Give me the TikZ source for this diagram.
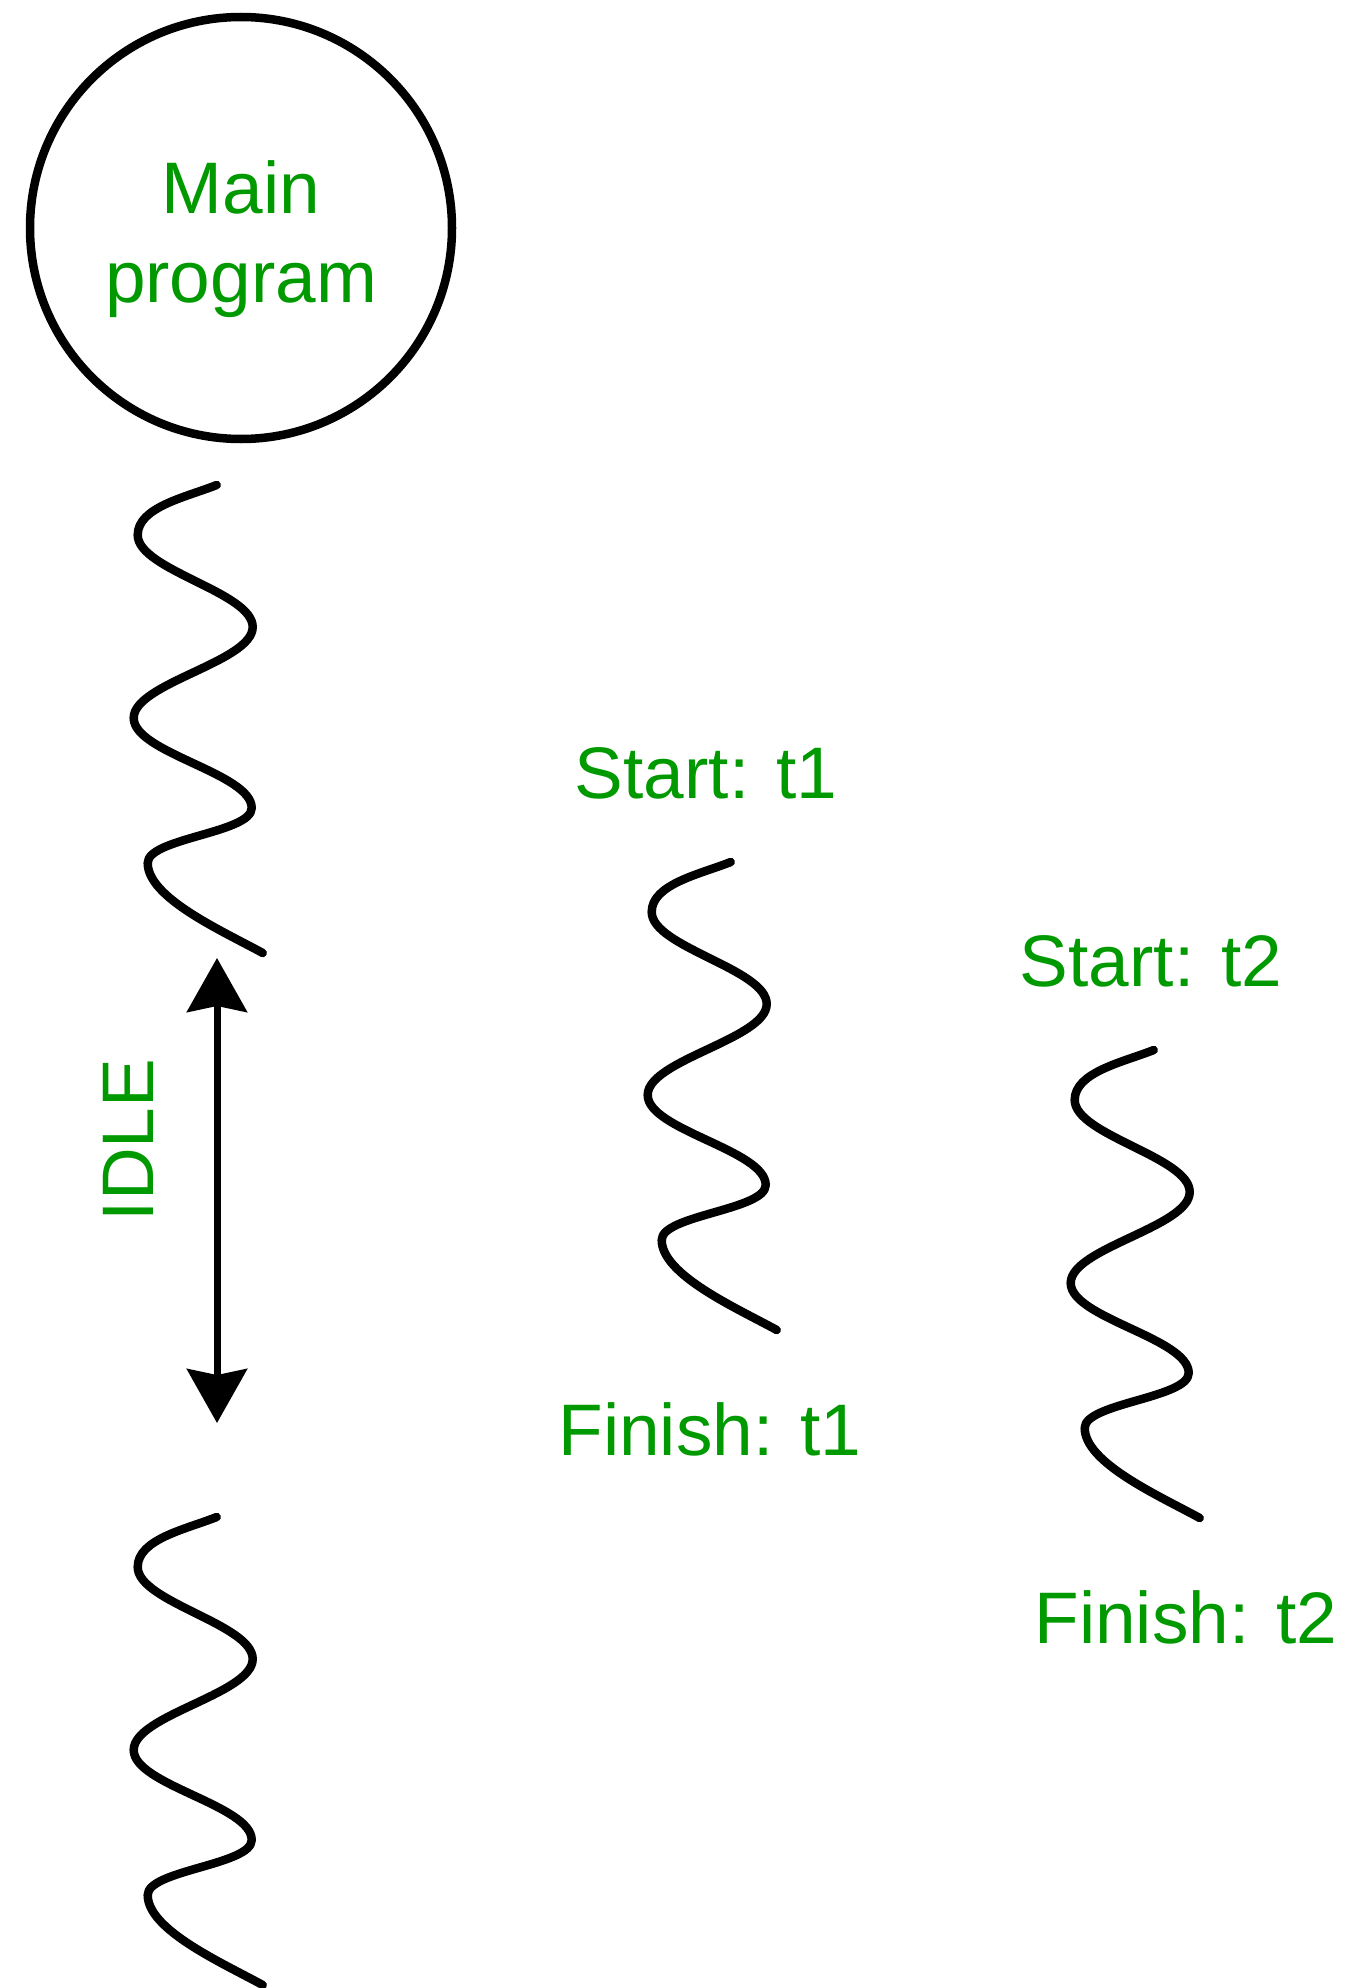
\documentclass[tikz,border=0pt]{standalone}
\usepackage{fontspec}
\setmainfont{Liberation Sans}
\usetikzlibrary{arrows.meta}
\definecolor{labelgreen}{RGB}{0,153,0}
\tikzset{
  wavestyle/.style={draw=black, line width=8.5pt, line cap=round, line join=round},
  lbl/.style={text=labelgreen, inner sep=0pt, font=\fontsize{73}{89}\selectfont},
  wave/.pic={
    \draw[wavestyle] (0,0) .. controls +(-30,12) and +(0,-28) .. (-79,50)
      .. controls +(0,35) and +(0,-35) .. (36,142)
      .. controls +(0,35) and +(0,-35) .. (-83,233)
      .. controls +(0,35) and +(0,-35) .. (35,323)
      .. controls +(0,25) and +(0,-25) .. (-69,378)
      .. controls +(0,35) and +(-40,-22) .. (46,468);
  }
}
\begin{document}
\begin{tikzpicture}[x=1pt, y=-1pt]
\useasboundingbox[fill=white] (0,0) rectangle (1367,1988);
% main program circle
\node[draw=black, line width=8.5pt, circle, minimum size=422pt, inner sep=0pt] (main) at (241,228) {};
\node[lbl, align=center] (mainlabel) at (241,239) {Main\\program};
% waves
\pic at (216.7,485) {wave};
\pic at (216.7,1517) {wave};
\pic at (730.7,862) {wave};
\pic at (1153.7,1050) {wave};
% idle arrow
\coordinate (idletop) at (217,958);
\coordinate (idlebot) at (217,1423);
\draw[line width=7pt, {Stealth[length=54pt, width=60pt, inset=6pt]}-{Stealth[length=54pt, width=60pt, inset=6pt]}] (idletop) -- (idlebot);
\node[lbl, rotate=90, anchor=base] (idle) at (153,1140) {IDLE};
% labels
\node[lbl, anchor=base] (start1) at (706,798) {Start: t1};
\node[lbl, anchor=base] (finish1) at (710,1455) {Finish: t1};
\node[lbl, anchor=base] (start2) at (1151,986) {Start: t2};
\node[lbl, anchor=base] (finish2) at (1186,1643) {Finish: t2};
\end{tikzpicture}
\end{document}
